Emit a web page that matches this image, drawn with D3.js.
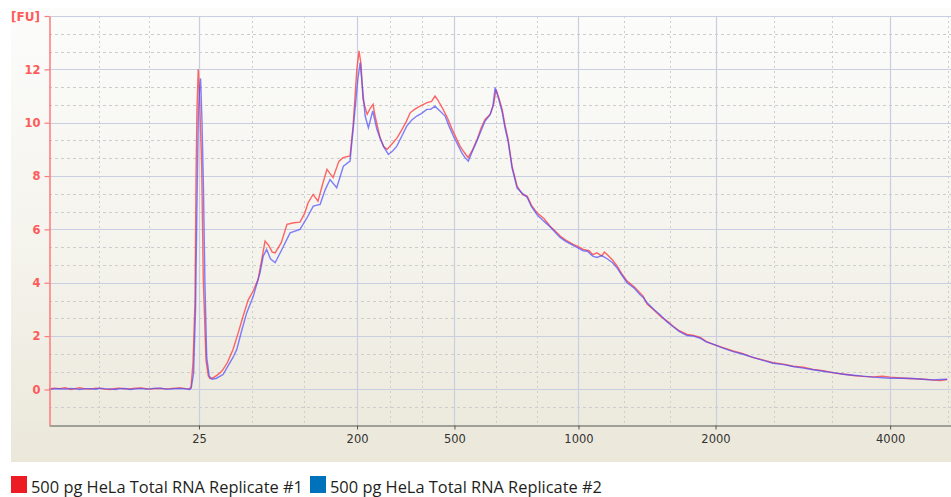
<!DOCTYPE html>
<html><head><meta charset="utf-8">
<script src="https://cdn.jsdelivr.net/npm/d3@7"></script>
<style>
html,body{margin:0;padding:0;background:#fff;}
svg{display:block;}
</style></head>
<body>
<svg id="chart" width="951" height="497"></svg>
<script>
// ---- data (x = migration time, s; y = fluorescence, FU) ----
const tickTimes  = [27.33, 36.11, 41.52, 48.41, 56.02, 65.72];
const tickLabels = ["25", "200", "500", "1000", "2000", "4000"];
const yTicks = [0, 2, 4, 6, 8, 10, 12, 14];
const yLabels = ["0", "2", "4", "6", "8", "10", "12", ""];
const seriesNames = ["500 pg HeLa Total RNA Replicate #1", "500 pg HeLa Total RNA Replicate #2"];

const rep1 = [
 [19.0,0.02],[19.3,0.05],[19.6,0.03],[19.9,0.06],[20.2,0.0],[20.5,0.04],[20.7,0.06],[21.0,0.02],[21.3,0.01],[21.6,0.05],[21.8,0.04],[22.1,0.01],[22.4,0.0],[22.7,0.04],[22.9,0.05],[23.2,0.02],[23.5,0.02],[23.8,0.05],[24.1,0.06],[24.4,0.03],[24.6,0.01],[24.9,0.03],[25.2,0.04],[25.5,0.02],[25.7,0.03],[26.0,0.05],[26.3,0.06],[26.6,0.03],[26.8,0.02],
 [26.89,0.1],[27.0,1.0],[27.11,3.3],[27.17,8.1],[27.22,10.5],[27.29,12.0],[27.36,11.0],[27.48,8.4],[27.57,4.1],[27.72,1.1],[27.85,0.5],[27.94,0.41],[28.06,0.42],[28.3,0.52],[28.5,0.62],[28.67,0.75],[28.9,1.0],[29.0,1.15],[29.22,1.5],[29.5,2.1],[29.78,2.75],[30.06,3.35],[30.35,3.7],[30.61,4.12],[30.8,4.8],[31.0,5.56],[31.2,5.4],[31.4,5.15],[31.56,5.12],[31.9,5.5],[32.22,6.19],[32.6,6.25],[32.94,6.27],[33.2,6.6],[33.39,7.0],[33.67,7.31],[33.94,7.06],[34.2,7.7],[34.44,8.25],[34.6,8.1],[34.78,7.94],[35.1,8.55],[35.33,8.69],[35.72,8.75],[35.89,9.87],[36.0,11.0],[36.1,12.0],[36.22,12.69],[36.33,12.2],[36.44,10.87],[36.67,10.31],[36.85,10.55],[37.0,10.69],[37.11,10.25],[37.39,9.44],[37.6,9.1],[37.78,9.0],[38.11,9.25],[38.35,9.45],[38.61,9.75],[38.85,10.05],[39.06,10.37],[39.3,10.5],[39.61,10.62],[40.0,10.75],[40.25,10.8],[40.44,11.0],[40.6,10.85],[40.89,10.5],[41.15,10.15],[41.39,9.75],[41.83,9.12],[42.05,8.9],[42.28,8.69],[42.5,8.95],[42.78,9.37],[43.0,9.8],[43.22,10.12],[43.5,10.31],[43.7,10.7],[43.83,11.25],[44.0,10.9],[44.17,10.5],[44.33,9.9],[44.5,9.37],[44.72,8.37],[45.0,7.62],[45.3,7.3],[45.56,7.25],[45.8,6.9],[46.11,6.62],[46.5,6.4],[46.83,6.12],[47.1,5.95],[47.39,5.75],[47.7,5.6],[48.11,5.44],[48.4,5.35],[48.67,5.25],[49.0,5.2],[49.2,5.05],[49.44,5.12],[49.7,5.0],[49.85,5.15],[50.0,5.06],[50.3,4.85],[50.56,4.62],[50.8,4.35],[51.11,4.06],[51.5,3.85],[51.83,3.62],[52.0,3.5],[52.22,3.2],[52.6,2.98],[52.94,2.75],[53.3,2.58],[53.67,2.37],[54.0,2.2],[54.44,2.06],[54.8,2.02],[55.17,1.95],[55.5,1.8],[55.89,1.69],[56.4,1.58],[57.0,1.44],[57.5,1.35],[58.11,1.19],[58.6,1.12],[59.22,1.0],[59.8,0.95],[60.33,0.87],[60.9,0.83],[61.44,0.75],[62.0,0.7],[62.56,0.62],[63.1,0.58],[63.67,0.52],[64.2,0.49],[64.78,0.47],[65.3,0.5],[65.72,0.46],[66.3,0.43],[67.0,0.4],[67.5,0.39],[68.11,0.35],[68.5,0.33],[68.89,0.37]
];

const rep2 = [
 [19.0,0.0],[19.3,0.02],[19.6,0.03],[19.9,0.01],[20.2,0.04],[20.5,0.02],[20.7,0.0],[21.0,0.03],[21.3,0.03],[21.6,0.01],[21.8,0.05],[22.1,0.03],[22.4,0.02],[22.7,0.0],[22.9,0.03],[23.2,0.04],[23.5,0.0],[23.8,0.02],[24.1,0.04],[24.4,0.01],[24.6,0.02],[24.9,0.05],[25.2,0.05],[25.5,0.01],[25.7,0.01],[26.0,0.03],[26.3,0.04],[26.6,0.02],[26.8,0.0],
 [26.9,0.05],[27.03,0.6],[27.14,3.0],[27.22,7.0],[27.3,10.5],[27.36,11.2],[27.42,11.66],[27.5,10.0],[27.58,7.5],[27.66,4.0],[27.76,1.2],[27.9,0.5],[28.06,0.38],[28.3,0.42],[28.67,0.56],[29.0,0.95],[29.22,1.2],[29.43,1.5],[29.7,2.2],[29.98,2.87],[30.35,3.5],[30.72,4.37],[30.9,5.0],[31.09,5.25],[31.3,4.9],[31.56,4.75],[31.9,5.2],[32.39,5.87],[32.94,6.0],[33.3,6.4],[33.68,6.87],[34.06,6.94],[34.35,7.5],[34.61,7.87],[34.98,7.56],[35.35,8.37],[35.72,8.56],[36.0,10.5],[36.15,11.6],[36.28,12.25],[36.4,11.4],[36.56,10.25],[36.74,9.81],[36.98,10.44],[37.21,9.75],[37.4,9.4],[37.57,9.12],[37.85,8.81],[38.1,8.95],[38.32,9.12],[38.6,9.5],[38.87,9.87],[39.15,10.1],[39.43,10.25],[39.7,10.35],[39.98,10.5],[40.2,10.5],[40.44,10.62],[40.7,10.45],[41.0,10.25],[41.2,9.9],[41.46,9.5],[41.93,8.87],[42.1,8.7],[42.29,8.56],[42.5,8.9],[42.76,9.31],[43.0,9.7],[43.22,10.06],[43.5,10.3],[43.65,10.6],[43.78,11.31],[43.95,10.95],[44.17,10.4],[44.33,9.8],[44.5,9.3],[44.72,8.3],[45.0,7.55],[45.3,7.35],[45.56,7.2],[45.8,6.85],[46.11,6.55],[46.5,6.3],[46.83,6.1],[47.1,5.9],[47.39,5.7],[47.7,5.55],[48.11,5.4],[48.4,5.3],[48.67,5.2],[48.9,5.18],[49.2,5.0],[49.44,4.95],[49.7,5.02],[50.0,4.9],[50.3,4.75],[50.56,4.55],[50.8,4.3],[51.11,4.0],[51.5,3.8],[51.83,3.55],[52.0,3.45],[52.22,3.25],[52.6,3.0],[52.94,2.8],[53.3,2.55],[53.67,2.35],[54.0,2.18],[54.44,2.02],[54.8,2.0],[55.17,1.92],[55.5,1.78],[55.89,1.7],[56.4,1.56],[57.0,1.42],[57.5,1.33],[58.11,1.2],[58.6,1.1],[59.22,0.98],[59.8,0.93],[60.33,0.86],[60.9,0.8],[61.44,0.74],[62.0,0.68],[62.56,0.63],[63.1,0.57],[63.67,0.53],[64.2,0.5],[64.78,0.46],[65.3,0.44],[65.72,0.42],[66.3,0.42],[67.0,0.41],[67.5,0.38],[68.11,0.36],[68.5,0.37],[68.89,0.38]
];

// ---- layout ----
const svg = d3.select("#chart");
const W = 951, H = 497;
const plot = {left: 49, right: 951, top: 16, bottom: 425};

const x = d3.scaleLinear().domain([19, 69.1]).range([plot.left, plot.right]);
const y = d3.scaleLinear().domain([-4/3, 14]).range([plot.bottom, plot.top]);

const defs = svg.append("defs");
const grad = defs.append("linearGradient").attr("id","bg").attr("x1",0).attr("y1",0).attr("x2",0).attr("y2",1);
grad.append("stop").attr("offset","0%").attr("stop-color","#fcfcfb");
grad.append("stop").attr("offset","55%").attr("stop-color","#f4f3ec");
grad.append("stop").attr("offset","100%").attr("stop-color","#ebe8da");
defs.append("clipPath").attr("id","clip").append("rect")
  .attr("x", plot.left).attr("y", plot.top - 1).attr("width", plot.right - plot.left).attr("height", plot.bottom - plot.top + 1);

svg.append("rect").attr("x",11).attr("y",8).attr("width",W-11).attr("height",462-8).attr("fill","url(#bg)");

// minor grid
const yMinor = d3.range(-2, 21).map(i => i*2/3).filter(v => v > -4/3 + 0.01 && v < 14 - 0.01 && Math.abs(v/2 - Math.round(v/2)) > 0.01);
const xBounds = [19].concat(tickTimes);
const xMinor = [];
for (let i = 0; i < xBounds.length - 1; i++) {
  const a = xBounds[i], b = xBounds[i+1];
  xMinor.push(a + (b-a)/3, a + 2*(b-a)/3);
}
{
  const n = tickTimes.length, step = (tickTimes[n-1] - tickTimes[n-2]) / 3;
  xMinor.push(tickTimes[n-1] + step);
}
const g = svg.append("g");
g.selectAll(".ym").data(yMinor).join("line")
  .attr("x1", plot.left).attr("x2", plot.right).attr("y1", d => Math.round(y(d))+0.5).attr("y2", d => Math.round(y(d))+0.5)
  .attr("stroke","#cdcdcd").attr("stroke-dasharray","3,3").attr("stroke-width",1);
g.selectAll(".xm").data(xMinor).join("line")
  .attr("y1", plot.top).attr("y2", plot.bottom).attr("x1", d => Math.round(x(d))+0.5).attr("x2", d => Math.round(x(d))+0.5)
  .attr("stroke","#cdcdcd").attr("stroke-dasharray","2,3").attr("stroke-width",1);
// major grid
g.selectAll(".yM").data(yTicks).join("line")
  .attr("x1", plot.left).attr("x2", plot.right).attr("y1", d => Math.round(y(d))+0.5).attr("y2", d => Math.round(y(d))+0.5)
  .attr("stroke","#c9cee0").attr("stroke-width",1.2);
g.selectAll(".xM").data(tickTimes).join("line")
  .attr("y1", plot.top).attr("y2", plot.bottom).attr("x1", d => Math.round(x(d))+0.5).attr("x2", d => Math.round(x(d))+0.5)
  .attr("stroke","#c9cee0").attr("stroke-width",1.2);

// lines
const line = d3.line().x(d => x(d[0])).y(d => y(d[1]));
const lg = svg.append("g").attr("clip-path","url(#clip)");
lg.append("path").datum(rep1).attr("d", line).attr("fill","none")
  .attr("stroke","#ff4a4a").attr("stroke-opacity",0.85).attr("stroke-width",1.4);
lg.append("path").datum(rep2).attr("d", line).attr("fill","none")
  .attr("stroke","#4a4aff").attr("stroke-opacity",0.7).attr("stroke-width",1.4);

// x axis
const xAxis = d3.axisBottom(x).tickValues(tickTimes).tickFormat((d,i) => tickLabels[i]).tickSize(4).tickSizeOuter(0);
const xg = svg.append("g").attr("transform", `translate(0,${plot.bottom+0.5})`).call(xAxis);
xg.select(".domain").attr("stroke","#555").attr("stroke-width",1.2);
xg.selectAll(".tick line").attr("stroke","#555");
xg.selectAll(".tick text").attr("font-family","DejaVu Sans, Verdana, sans-serif").attr("font-size","11.5px").attr("fill","#333").attr("dy","0.95em");

// y axis
const yAxis = d3.axisLeft(y).tickValues(yTicks).tickFormat((d,i) => yLabels[i]).tickSize(5).tickSizeOuter(0);
const yg = svg.append("g").attr("transform", `translate(${plot.left+0.5},0)`).call(yAxis);
yg.select(".domain").attr("stroke","#ff7a7a").attr("stroke-width",1.5);
yg.selectAll(".tick line").attr("stroke","#ff7a7a").attr("stroke-width",1.2);
yg.selectAll(".tick text").attr("font-family","DejaVu Sans, Verdana, sans-serif").attr("font-weight","bold").attr("font-size","11.5px").attr("fill","#ff5a5a").attr("x",-9);

svg.append("text").attr("x", 11).attr("y", 21).text("[FU]")
  .attr("font-family","DejaVu Sans, Verdana, sans-serif").attr("font-weight","bold").attr("font-size","11.5px").attr("fill","#ff5a5a")
  .attr("textLength", 29).attr("lengthAdjust","spacingAndGlyphs");

// legend
const legColors = ["#ed1c24", "#0072bc"];
const legX = [11, 310];
seriesNames.forEach((name, i) => {
  svg.append("rect").attr("x", legX[i]).attr("y", 476).attr("width", 16).attr("height", 17).attr("fill", legColors[i]);
  svg.append("text").attr("x", legX[i] + 20).attr("y", 492.5).text(name)
    .attr("font-family","Open Sans, Noto Sans, sans-serif").attr("font-size","16.5px").attr("fill","#231f20")
    .attr("textLength", 272).attr("lengthAdjust","spacingAndGlyphs");
});
</script>
</body></html>
